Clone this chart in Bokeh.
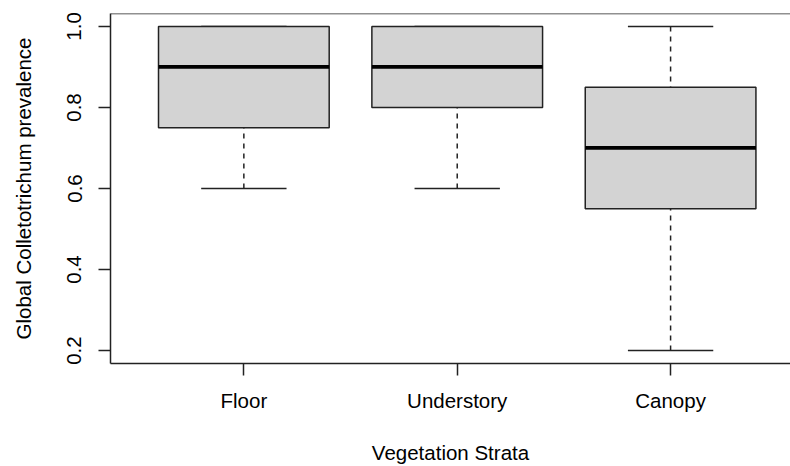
from bokeh.plotting import figure
from bokeh.models import Range1d, FixedTicker, Span
from bokeh.embed import file_html
from bokeh.resources import INLINE

# ---- data ----
categories = ["Floor", "Understory", "Canopy"]
lower_whisker = [0.60, 0.60, 0.20]
q1 = [0.75, 0.80, 0.55]
median = [0.90, 0.90, 0.70]
q3 = [1.00, 1.00, 0.85]
upper_whisker = [1.00, 1.00, 1.00]
y_ticks = [0.2, 0.4, 0.6, 0.8, 1.0]
y_tick_labels = ["0.2", "0.4", "0.6", "0.8", "1.0"]

xs = list(range(1, len(categories) + 1))
box_w = 0.8
cap_w = 0.4

FONT = "Liberation Sans"
FS = "20.5px"
LINE = "#222222"
LW = 1.5

Y0, Y1 = 0.168, 1.032
p = figure(width=790, height=466, output_backend="svg", toolbar_location=None,
           x_range=Range1d(0.375, 3.562), y_range=Range1d(Y0, Y1),
           min_border_left=110, min_border_right=0, min_border_top=13,
           min_border_bottom=103)
p.outline_line_color = None
p.grid.visible = False
p.background_fill_color = "white"
p.border_fill_color = "white"

# whiskers (dashed, drawn from whisker end toward box)
p.segment(x0=xs, y0=lower_whisker, x1=xs, y1=q1, line_color=LINE,
          line_width=LW, line_dash="5 5")
p.segment(x0=xs, y0=upper_whisker, x1=xs, y1=q3, line_color=LINE,
          line_width=LW, line_dash="5 5")
# staples
p.segment(x0=[x - cap_w / 2 for x in xs], y0=lower_whisker,
          x1=[x + cap_w / 2 for x in xs], y1=lower_whisker,
          line_color=LINE, line_width=LW)
p.segment(x0=[x - cap_w / 2 for x in xs], y0=upper_whisker,
          x1=[x + cap_w / 2 for x in xs], y1=upper_whisker,
          line_color=LINE, line_width=LW)
# boxes
p.vbar(x=xs, width=box_w, bottom=q1, top=q3, fill_color="#D3D3D3",
       line_color=LINE, line_width=LW)
# medians
p.segment(x0=[x - box_w / 2 for x in xs], y0=median,
          x1=[x + box_w / 2 for x in xs], y1=median,
          line_color="black", line_width=3.75, line_cap="butt")

# x axis
xa = p.xaxis[0]
xa.ticker = FixedTicker(ticks=xs)
xa.major_label_overrides = {x: c for x, c in zip(xs, categories)}
xa.axis_label = "Vegetation Strata"

# y axis
ya = p.yaxis[0]
ya.ticker = FixedTicker(ticks=y_ticks)
ya.major_label_overrides = {t: l for t, l in zip(y_ticks, y_tick_labels)}
ya.major_label_orientation = "vertical"
ya.axis_label = "Global Colletotrichum prevalence"

for ax in (xa, ya):
    ax.minor_tick_line_color = None
    ax.major_tick_in = 0
    ax.major_tick_out = 12
    ax.major_tick_line_color = LINE
    ax.major_tick_line_width = LW
    ax.axis_line_color = LINE
    ax.axis_line_width = LW
    ax.major_label_text_font = FONT
    ax.major_label_text_font_size = FS
    ax.major_label_text_color = "black"
    ax.axis_label_text_font = FONT
    ax.axis_label_text_font_size = FS
    ax.axis_label_text_font_style = "normal"
    ax.axis_label_text_color = "black"

xa.major_label_standoff = 13
xa.axis_label_standoff = 26
ya.major_label_standoff = 17
ya.axis_label_standoff = 30

# top frame line
p.add_layout(Span(location=Y1, dimension="width", line_color=LINE,
                  line_width=LW))

open("out.html", "w").write(file_html(p, INLINE))
